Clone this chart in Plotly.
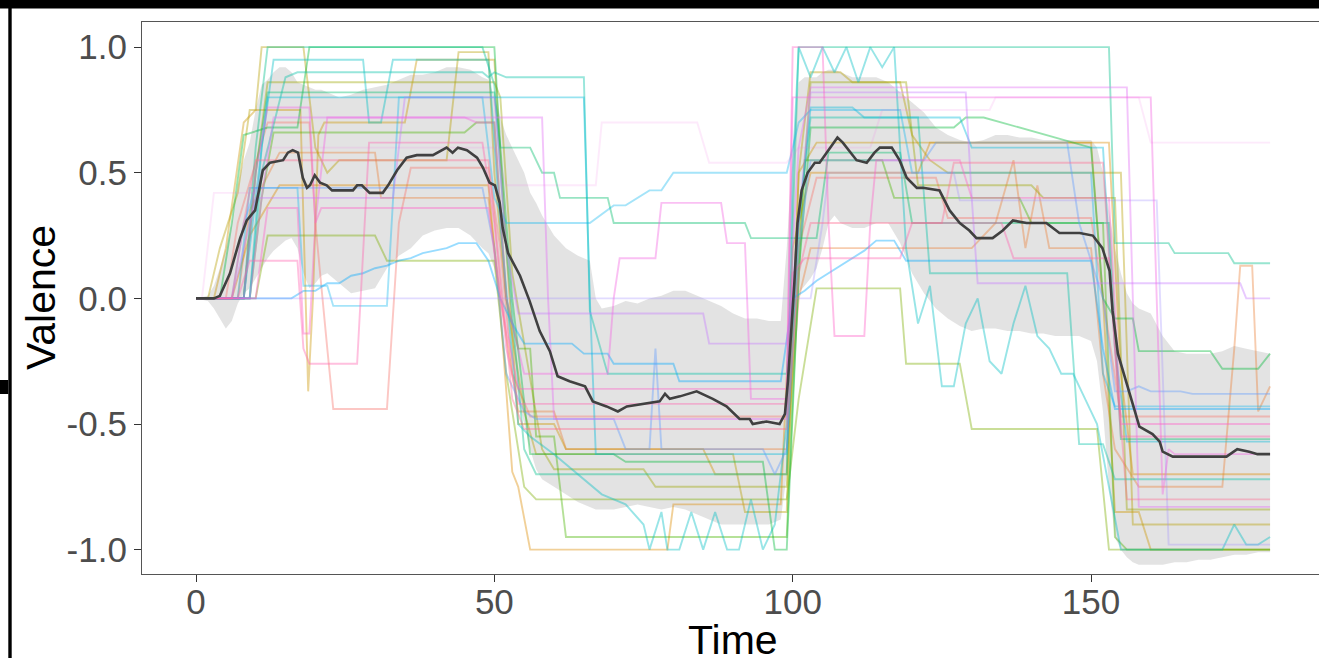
import plotly.graph_objects as go

# ---------------- data ----------------
p01_t = [0, 5, 7, 12, 19, 20, 22, 23, 32, 34, 36, 49, 51, 53, 56, 99, 101, 104, 124, 126, 150, 152, 155, 180]
p01_v = [0, 0, 0.3, 0.7, 0.7, 0.3, -0.2, -0.44, -0.44, 0.3, 0.52, 0.52, 0.2, -0.3, -0.47, -0.47, 0.2, 0.48, 0.48, 0.32, 0.32, 0.0, -0.47, -0.47]
p02_t = [0, 7, 9, 14, 30, 31, 49, 51, 54, 60, 62, 99, 101, 103, 130, 134, 137, 139, 141, 143, 150, 152, 154, 158, 172, 174, 175, 177, 178, 180]
p02_v = [0, 0, 0.35, 0.58, 0.58, 0.4, 0.4, 0.0, -0.45, -0.45, -0.6, -0.6, 0.0, 0.2, 0.2, 0.3, 0.55, 0.2, 0.45, 0.2, 0.2, -0.3, -0.6, -0.75, -0.75, -0.2, 0.13, 0.13, -0.45, -0.35]
p03_t = [0, 6, 9, 14, 49, 51, 53, 54, 56, 79, 80, 98, 100, 103, 121, 123, 152, 153, 155, 157, 180]
p03_v = [0, 0, 0.25, 0.45, 0.45, -0.05, -0.69, -0.75, -1, -1, -0.82, -0.82, 0.2, 0.5, 0.5, 0.62, 0.62, 0.62, -0.3, -0.7, -0.7]
p04_t = [0, 3, 5, 8, 10, 17.5, 18.8, 19.6, 20.5, 21.5, 35, 37, 50, 52, 54, 60, 62, 85, 87, 99, 101, 104, 150, 152, 154, 158, 160, 180]
p04_v = [0, 0, 0.2, 0.7, 0.75, 0.75, -0.37, 0.0, 0.65, 0.7, 0.7, 0.95, 0.95, 0.2, -0.5, -0.5, -0.6, -0.6, -0.7, -0.7, 0.5, 0.62, 0.62, 0.0, -0.85, -0.85, -1, -1]
p05_t = [0, 2, 4, 7, 9, 10, 11, 18, 20, 22, 24, 42, 44, 49, 50, 52, 55, 57, 90, 92, 99, 101, 103, 108, 110, 118, 120, 123, 126, 155, 157, 180]
p05_v = [0, 0, 0.2, 0.42, 0.75, 0.75, 1, 1, 0.6, 0.5, 0.55, 0.55, 0.98, 0.98, 0.5, 0.0, -0.45, -0.62, -0.62, -0.85, -0.85, 0.5, 0.9, 0.9, 0.86, 0.86, 0.65, 0.55, 0.5, 0.5, -0.9, -0.9]
p06_t = [0, 8, 10, 12, 50, 51, 53, 58, 60, 75, 77, 99, 101, 103, 119, 121, 140, 142, 154, 156, 180]
p06_v = [0, 0, 0.5, 0.86, 0.86, 0.8, 0.1, -0.6, -0.68, -0.68, -0.75, -0.75, 0.2, 0.86, 0.86, 0.45, 0.45, 0.4, 0.4, -0.84, -0.84]
p07_t = [0, 10, 12, 30, 32, 50, 52, 55, 57, 99, 101, 104, 118, 119, 128, 130, 151, 153, 180]
p07_v = [0, 0, 0.25, 0.25, 0.15, 0.15, -0.3, -0.75, -0.8, -0.8, -0.4, 0.04, 0.04, -0.26, -0.26, -0.52, -0.52, -1, -1]
p08_t = [0, 9, 11, 13, 45, 47, 50, 52, 54, 56, 57, 60, 62, 99, 100, 102, 115, 117, 138, 140, 152, 154, 156, 180]
p08_v = [0, 0, 0.4, 0.66, 0.66, 0.7, 0.7, 0.0, -0.2, -0.2, -0.55, -0.55, -0.95, -0.95, -0.4, 0.55, 0.55, 0.4, 0.4, 0.3, 0.3, -0.95, -1, -1]
p09_t = [0, 4, 6, 8, 12, 17, 19, 50, 51, 53, 56, 70, 72, 95, 97, 99, 101, 103, 127, 129, 132, 150, 152, 154, 157, 158, 170, 172, 178, 180]
p09_v = [0, 0, 0.3, 0.65, 0.68, 0.68, 1, 1, 0.6, 0.0, -0.62, -0.62, -0.65, -0.65, -1, -1, 0.1, 0.68, 0.68, 0.72, 0.72, 0.6, 0.0, -0.08, -0.08, -0.21, -0.21, -0.28, -0.28, -0.22]
p10_t = [0, 8, 10, 12, 50, 51, 52, 56, 58, 60, 61, 69, 70, 92, 93, 104, 106, 118, 120, 153, 155, 180]
p10_v = [0, 0, 0.5, 0.82, 0.82, 0.6, 0.6, 0.6, 0.5, 0.5, 0.4, 0.4, 0.3, 0.3, 0.24, 0.24, 0.58, 0.58, 0.3, 0.3, -0.56, -0.56]
p11_t = [0, 8, 10, 12, 48, 50, 52, 55, 57, 99, 100, 101, 153, 154, 163, 164, 173, 174, 180]
p11_v = [0, 0, 0.6, 1, 1, 0.85, 0.2, -0.6, -0.7, -0.7, 0.3, 1, 1, 0.22, 0.22, 0.18, 0.18, 0.14, 0.14]
p12_t = [0, 9, 11, 15, 17, 48, 49, 50, 52, 65, 66, 69, 99, 101, 103, 121, 123, 146, 148, 152, 154, 180]
p12_v = [0, 0, 0.5, 0.88, 0.9, 0.9, 0.88, 0.9, 0.88, 0.88, -0.05, -0.3, -0.3, 0.3, 0.72, 0.72, 0.1, 0.1, -0.58, -0.58, -0.72, -0.72]
p13_t = [0, 9, 11, 13, 28, 29, 31, 33, 49, 51, 54, 56, 60, 64, 68, 72, 75, 76, 78, 79, 81, 83, 85, 87, 89, 91, 93, 95, 97, 99,
         100, 101, 103, 105, 107, 109, 111, 113, 115, 117, 118, 119, 121, 123, 125, 127, 129, 131, 133, 135, 137, 139, 141, 143,
         145, 147, 149, 151, 153, 155, 172, 174, 176, 178, 180]
p13_v = [0, 0, 0.6, 0.95, 0.95, 0.7, 0.7, 0.95, 0.95, 0.3, -0.5, -0.55, -0.62, -0.7, -0.78, -0.82, -0.9, -1, -0.85, -1, -1, -0.85,
         -1, -0.85, -1, -1, -0.8, -1, -0.9, -0.5, 0.5, 1, 0.88, 1, 0.9, 1, 0.86, 1, 0.92, 1, 0.6, 0.2, -0.1, 0.05, -0.35, -0.35,
         -0.1, 0.0, -0.25, -0.3, -0.1, 0.05, -0.15, -0.2, -0.3, -0.3, -0.4, -0.5, -0.75, -1, -1, -0.9, -0.98, -0.98, -0.95]
p14_t = [0, 8, 10, 12, 65, 66, 67, 99, 101, 103, 110, 112, 128, 130, 152, 154, 156, 180]
p14_v = [0, 0, 0.4, 0.8, 0.8, 0.0, -0.62, -0.62, 0.3, 0.76, 0.76, 0.72, 0.72, 0.6, 0.6, -0.2, -0.57, -0.57]
p15_t = [0, 7, 9, 17, 18, 22, 23, 32, 34, 48, 50, 52, 66, 70, 72, 76, 78, 80, 99, 101, 103, 118, 120, 150, 152, 154, 180]
p15_v = [0, 0, 0.44, 0.44, 0.05, 0.05, -0.03, -0.03, 0.8, 0.8, 0.4, 0.3, 0.3, 0.37, 0.37, 0.43, 0.43, 0.5, 0.5, 0.7, 0.75, 0.75, 0.5, 0.5, -0.3, -0.43, -0.43]
p16_t = [0, 16, 18, 20, 22, 24, 26, 28, 30, 32, 34, 36, 38, 40, 42, 44, 47, 49, 51, 53, 55, 57, 63, 65, 69, 70, 80, 81, 98, 100,
         102, 104, 106, 108, 110, 112, 114, 117, 119, 150, 152, 154, 180]
p16_v = [0, 0, 0.03, 0.03, 0.06, 0.06, 0.09, 0.1, 0.12, 0.13, 0.15, 0.16, 0.18, 0.19, 0.2, 0.22, 0.22, 0.15, 0.0, -0.1, -0.18,
         -0.18, -0.18, -0.22, -0.22, -0.26, -0.26, -0.33, -0.33, 0.0, 0.03, 0.07, 0.1, 0.13, 0.16, 0.19, 0.23, 0.23, 0.15, 0.15,
         -0.2, -0.44, -0.44]
p17_t = [0, 6, 8, 10, 48, 50, 52, 55, 57, 70, 72, 76, 77, 78, 80, 95, 97, 99, 101, 103, 122, 124, 146, 148, 152, 154, 156, 158, 160, 165, 167, 180]
p17_v = [0, 0, 0.3, 0.44, 0.44, 0.2, -0.3, -0.45, -0.48, -0.48, -0.6, -0.6, -0.2, -0.6, -0.6, -0.6, -0.7, -0.6, 0.2, 0.55, 0.55, 0.62, 0.62, 0.3, 0.0, -0.37, -0.37, -0.35, -0.37, -0.37, -0.38, -0.38]
p18_t = [0, 1, 103, 105, 106, 127, 128, 161, 162, 163, 180]
p18_v = [0, 0, 0, 0.3, 0.5, 0.5, 0.39, 0.39, -0.3, -0.98, -0.98]
p19_t = [0, 6, 8, 10, 33, 35, 50, 52, 54, 85, 86, 99, 101, 103, 129, 130, 131, 175, 176, 180]
p19_v = [0, 0, 0.2, 0.4, 0.4, 0.8, 0.8, 0.2, -0.06, -0.06, -0.18, -0.18, 0.3, 0.82, 0.82, 0.4, 0.06, 0.06, 0.0, 0.0]
p20_t = [0, 9, 11, 13, 58, 59, 60, 99, 100, 101, 103, 156, 157, 158, 180]
p20_v = [0, 0, 0.4, 0.72, 0.72, 0.0, -0.48, -0.48, 0.2, 0.6, 0.84, 0.84, 0.0, -0.83, -0.83]
p21_t = [0, 8, 10, 12, 19, 20, 22, 45, 47, 50, 52, 55, 57, 69, 70, 71, 77, 78, 88, 89, 92, 93, 99, 100, 101, 103, 160, 161, 162, 163, 164, 165, 180]
p21_v = [0, 0, 0.5, 0.76, 0.76, 0.3, 0.72, 0.72, 0.7, 0.7, 0.0, -0.3, -0.3, -0.3, 0.0, 0.16, 0.16, 0.38, 0.38, 0.22, 0.22, -0.4, -0.4, 0.8, 0.8, 0.8, 0.8, 0.0, -0.78, -0.6, -0.62, -0.62, -0.62]
p22_t = [0, 10, 12, 17, 18, 19, 20, 21, 49, 51, 54, 56, 99, 100, 105, 106, 107, 112, 113, 114, 128, 130, 153, 155, 180]
p22_v = [0, 0, 0.36, 0.36, -0.14, -0.14, 0.3, 0.36, 0.36, 0.0, -0.36, -0.36, -0.36, 1.0, 1.0, 0.3, -0.15, -0.15, 0.3, 0.55, 0.55, 0.4, 0.4, -0.5, -0.5]
p23_t = [0, 7, 9, 17, 18, 19, 27, 28, 29, 48, 50, 52, 54, 99, 100, 102, 118, 120, 135, 137, 153, 155, 180]
p23_v = [0, 0, 0.15, 0.15, -0.2, -0.26, -0.26, 0.2, 0.62, 0.62, 0.3, -0.2, -0.42, -0.42, 0.1, 0.16, 0.16, 0.3, 0.3, 0.16, 0.16, -0.55, -0.55]
p24_t = [0, 6, 8, 10, 49, 51, 53, 55, 99, 101, 103, 125, 127, 152, 154, 156, 180]
p24_v = [0, 0, 0.3, 0.55, 0.55, 0.1, -0.4, -0.52, -0.52, 0.1, 0.3, 0.3, 0.54, 0.54, -0.2, -0.8, -0.8]
p25_t = [0, 1, 3, 10, 12, 50, 52, 67, 68, 84, 86, 99, 101, 103, 113, 115, 133, 134, 158, 160, 180]
p25_v = [0, 0, 0.42, 0.42, 0.6, 0.6, 0.45, 0.45, 0.7, 0.7, 0.54, 0.54, 0.6, 0.6, 0.6, 0.75, 0.75, 0.8, 0.8, 0.62, 0.62]

mean_t = [0, 3, 4, 5.7, 7.4, 8.5, 9.9, 11.2, 12.4, 14.6, 15.4, 16.2, 17.1, 17.9, 18.6, 19.1, 19.9, 20.8, 21.9, 22.8,
          24.1, 26.3, 27.0, 27.8, 29.1, 31.3, 32.2, 33.7, 35.3, 37.0, 39.7, 41.2, 42.0, 43.0, 43.9, 45.4, 47.1, 48.1, 49.2, 50.1,
          50.9, 51.4, 52.3, 54.3, 55.9, 57.6, 59.3, 60.6, 62.6, 65.2, 66.5, 68.8, 70.7, 72.2, 74.9, 77.7, 78.6, 79.4, 81.1, 83.9,
          86.6, 88.9, 91.1, 92.8, 93.3, 95.6, 97.8, 98.7, 99.2, 99.8, 100.3, 100.8, 101.5, 102.5, 103.7, 104.5, 105.7, 107.5, 108.4, 110.7,
          112.4, 113.7, 114.6, 116.6, 117.9, 119.1, 120.8, 121.8, 124.6, 126.3, 128.0, 129.6, 130.8, 133.5, 135.2, 136.9, 139.2, 142.5, 144.7, 148.1,
          150.3, 151.9, 153.1, 153.6, 154.5, 156.0, 157.0, 158.1, 160.3, 161.5, 162.0, 163.7, 172.7, 174.5, 176.5, 177.9, 180.0]
mean_v = [0, 0, 0.01, 0.1, 0.24, 0.31, 0.35, 0.51, 0.54, 0.55, 0.58, 0.59, 0.58, 0.48, 0.44, 0.45, 0.49, 0.46, 0.45, 0.43,
          0.43, 0.43, 0.45, 0.45, 0.42, 0.42, 0.45, 0.51, 0.56, 0.57, 0.57, 0.59, 0.60, 0.58, 0.60, 0.59, 0.56, 0.52, 0.46, 0.45,
          0.38, 0.28, 0.18, 0.09, -0.01, -0.13, -0.21, -0.31, -0.33, -0.35, -0.41, -0.43, -0.45, -0.43, -0.42, -0.41, -0.38, -0.40, -0.39, -0.37,
          -0.40, -0.43, -0.48, -0.48, -0.50, -0.49, -0.50, -0.46, -0.33, -0.13, 0.07, 0.30, 0.43, 0.50, 0.54, 0.54, 0.58, 0.64, 0.62, 0.55,
          0.54, 0.58, 0.60, 0.60, 0.55, 0.48, 0.44, 0.44, 0.43, 0.35, 0.30, 0.27, 0.24, 0.24, 0.27, 0.31, 0.30, 0.30, 0.26, 0.26,
          0.25, 0.20, 0.11, -0.05, -0.22, -0.34, -0.43, -0.51, -0.54, -0.57, -0.61, -0.63, -0.63, -0.60, -0.61, -0.62, -0.62]

rib_t = [0, 2, 3, 4, 5, 6, 7, 8, 9, 10, 11, 12, 13, 14, 15, 16, 17, 18, 19, 20,
         21, 22, 24, 26, 28, 30, 32, 34, 36, 38, 40, 42, 44, 46, 48, 49, 50, 51, 52, 53,
         54, 55, 56, 57, 58, 60, 62, 64, 66, 67, 68, 70, 72, 74, 76, 78, 80, 82, 84, 86,
         88, 90, 92, 94, 96, 98, 99, 100, 101, 102, 103, 104, 105, 106, 107, 108, 110, 112, 114, 116,
         118, 120, 122, 124, 126, 128, 130, 132, 134, 136, 138, 140, 142, 144, 146, 148, 150, 151, 152, 153,
         154, 155, 156, 157, 158, 160, 162, 164, 166, 168, 170, 172, 174, 176, 178, 180]
rib_hi = [0, 0.01, 0.05, 0.12, 0.2, 0.3, 0.45, 0.55, 0.62, 0.75, 0.85, 0.87, 0.9, 0.92, 0.92, 0.9, 0.86, 0.85, 0.84, 0.83,
          0.83, 0.82, 0.8, 0.81, 0.83, 0.84, 0.85, 0.87, 0.89, 0.89, 0.9, 0.92, 0.92, 0.91, 0.88, 0.87, 0.8, 0.72, 0.65, 0.6,
          0.55, 0.5, 0.42, 0.38, 0.33, 0.25, 0.2, 0.17, 0.15, 0.0, -0.04, -0.03, -0.01, -0.02, 0.0, 0.01, 0.03, 0.03, 0.01, -0.01,
          -0.03, -0.06, -0.08, -0.08, -0.09, -0.09, 0.2, 0.6, 0.86, 0.88, 0.88, 0.88, 0.9, 0.91, 0.91, 0.9, 0.88, 0.88, 0.88, 0.86,
          0.82, 0.78, 0.74, 0.68, 0.65, 0.63, 0.62, 0.63, 0.65, 0.65, 0.64, 0.64, 0.63, 0.63, 0.63, 0.63, 0.63, 0.6, 0.5, 0.35,
          0.2, 0.1, 0.02, -0.02, -0.04, -0.06, -0.15, -0.21, -0.22, -0.22, -0.22, -0.21, -0.19, -0.2, -0.21, -0.22]
rib_lo = [0, -0.01, -0.04, -0.08, -0.12, -0.09, -0.02, 0.02, 0.04, 0.08, 0.12, 0.16, 0.19, 0.21, 0.23, 0.24, 0.2, 0.1, 0.04, 0.06,
          0.09, 0.1, 0.06, 0.02, 0.03, 0.04, 0.12, 0.17, 0.2, 0.25, 0.27, 0.28, 0.28, 0.25, 0.2, 0.18, 0.12, 0.02, -0.1, -0.25,
          -0.4, -0.5, -0.6, -0.68, -0.72, -0.75, -0.78, -0.81, -0.83, -0.84, -0.84, -0.84, -0.83, -0.82, -0.83, -0.84, -0.83, -0.84, -0.86, -0.88,
          -0.9, -0.9, -0.9, -0.9, -0.9, -0.88, -0.7, -0.3, 0.02, 0.05, 0.08, 0.12, 0.2, 0.3, 0.33, 0.3, 0.28, 0.28, 0.3, 0.3,
          0.22, 0.1, 0.02, -0.04, -0.08, -0.11, -0.13, -0.12, -0.12, -0.13, -0.13, -0.14, -0.14, -0.15, -0.15, -0.15, -0.17, -0.25, -0.45, -0.75,
          -0.95, -1.0, -1.03, -1.05, -1.06, -1.06, -1.06, -1.05, -1.05, -1.04, -1.04, -1.03, -1.02, -1.02, -1.01, -1.01]

x_ticks = [0, 50, 100, 150]
y_ticks = [-1.0, -0.5, 0.0, 0.5, 1.0]
y_tick_text = ["-1.0", "-0.5", "0.0", "0.5", "1.0"]

participants = [
    (p01_t, p01_v, "#F8766D", 0.4), (p02_t, p02_v, "#EC8239", 0.4), (p03_t, p03_v, "#DE8C00", 0.4),
    (p04_t, p04_v, "#CD9600", 0.4), (p05_t, p05_v, "#B79F00", 0.4), (p06_t, p06_v, "#9DA700", 0.4),
    (p07_t, p07_v, "#7CAE00", 0.4), (p08_t, p08_v, "#49B500", 0.4), (p09_t, p09_v, "#00BA38", 0.4),
    (p10_t, p10_v, "#00BE6C", 0.4), (p11_t, p11_v, "#00C08B", 0.4), (p12_t, p12_v, "#00C1A7", 0.4),
    (p13_t, p13_v, "#00BFC4", 0.4), (p14_t, p14_v, "#00BBDB", 0.4), (p15_t, p15_v, "#00B4F0", 0.35),
    (p16_t, p16_v, "#00A9FF", 0.4), (p17_t, p17_v, "#619CFF", 0.4), (p18_t, p18_v, "#9F8CFF", 0.3),
    (p19_t, p19_v, "#C77CFF", 0.4), (p20_t, p20_v, "#E36EF6", 0.4), (p21_t, p21_v, "#F564E3", 0.4),
    (p22_t, p22_v, "#FF61C9", 0.4), (p23_t, p23_v, "#FF64B0", 0.4), (p24_t, p24_v, "#FF6C91", 0.4),
    (p25_t, p25_v, "#F564E3", 0.13),
]

# ---------------- figure ----------------
fig = go.Figure()

fig.add_trace(go.Scatter(x=rib_t, y=rib_hi, mode="lines", line=dict(width=0), hoverinfo="skip", showlegend=False))
fig.add_trace(go.Scatter(x=rib_t, y=rib_lo, mode="lines", line=dict(width=0), fill="tonexty",
                         fillcolor="rgba(200,200,200,0.5)", hoverinfo="skip", showlegend=False))

for t, v, c, a in participants:
    fig.add_trace(go.Scatter(x=t, y=v, mode="lines", line=dict(color=c, width=1.9), opacity=a, showlegend=False))

fig.add_trace(go.Scatter(x=mean_t, y=mean_v, mode="lines", line=dict(color="#404040", width=2.6), showlegend=False))

W, H = 1319, 658
L, R, T, B = 142, 0, 22, 84
pw, ph = W - L - R, H - T - B

def px_x(x):
    return (x - L) / pw

def px_y(y):
    return (H - B - y) / ph

axis_font = dict(family="Liberation Sans, Arial, sans-serif", size=35, color="#4D4D4D")

fig.update_layout(
    width=W, height=H,
    margin=dict(l=L, r=R, t=T, b=B),
    paper_bgcolor="white", plot_bgcolor="white",
    xaxis=dict(range=[-9.05, 188.2], tickvals=x_ticks, ticks="outside", ticklen=7, tickwidth=1.2, tickcolor="#333333",
               showline=True, linecolor="#555555", linewidth=1.2, mirror=True, showgrid=False, zeroline=False,
               tickfont=axis_font, ticklabelstandoff=-10),
    yaxis=dict(range=[-1.097, 1.1], tickvals=y_ticks, ticktext=y_tick_text, ticks="outside", ticklen=7, tickwidth=1.2,
               tickcolor="#333333", showline=True, linecolor="#555555", linewidth=1.2, mirror=False, showgrid=False,
               zeroline=False, tickfont=axis_font),
    annotations=[
        dict(text="Valence", x=px_x(41), y=0.5, xref="paper", yref="paper", textangle=-90, showarrow=False,
             xanchor="center", yanchor="middle", font=dict(family="Liberation Sans, Arial, sans-serif", size=41, color="black")),
        dict(text="Time", x=px_x(733), y=px_y(640), xref="paper", yref="paper", showarrow=False,
             xanchor="center", yanchor="middle", font=dict(family="Liberation Sans, Arial, sans-serif", size=41, color="black")),
    ],
    shapes=[
        dict(type="rect", xref="paper", yref="paper", x0=px_x(0), x1=px_x(W + 5), y0=px_y(8.5), y1=px_y(-2),
             fillcolor="black", line=dict(width=0), layer="above"),
        dict(type="rect", xref="paper", yref="paper", x0=px_x(8.3), x1=px_x(11.7), y0=px_y(H + 2), y1=px_y(8),
             fillcolor="black", line=dict(width=0), layer="above"),
        dict(type="rect", xref="paper", yref="paper", x0=px_x(-2), x1=px_x(8.3), y0=px_y(394), y1=px_y(380),
             fillcolor="black", line=dict(width=0), layer="above"),
    ],
)

fig.write_html("out.html", config={"displayModeBar": False},
               post_script="document.body.style.margin='0';document.body.style.overflow='hidden';")
